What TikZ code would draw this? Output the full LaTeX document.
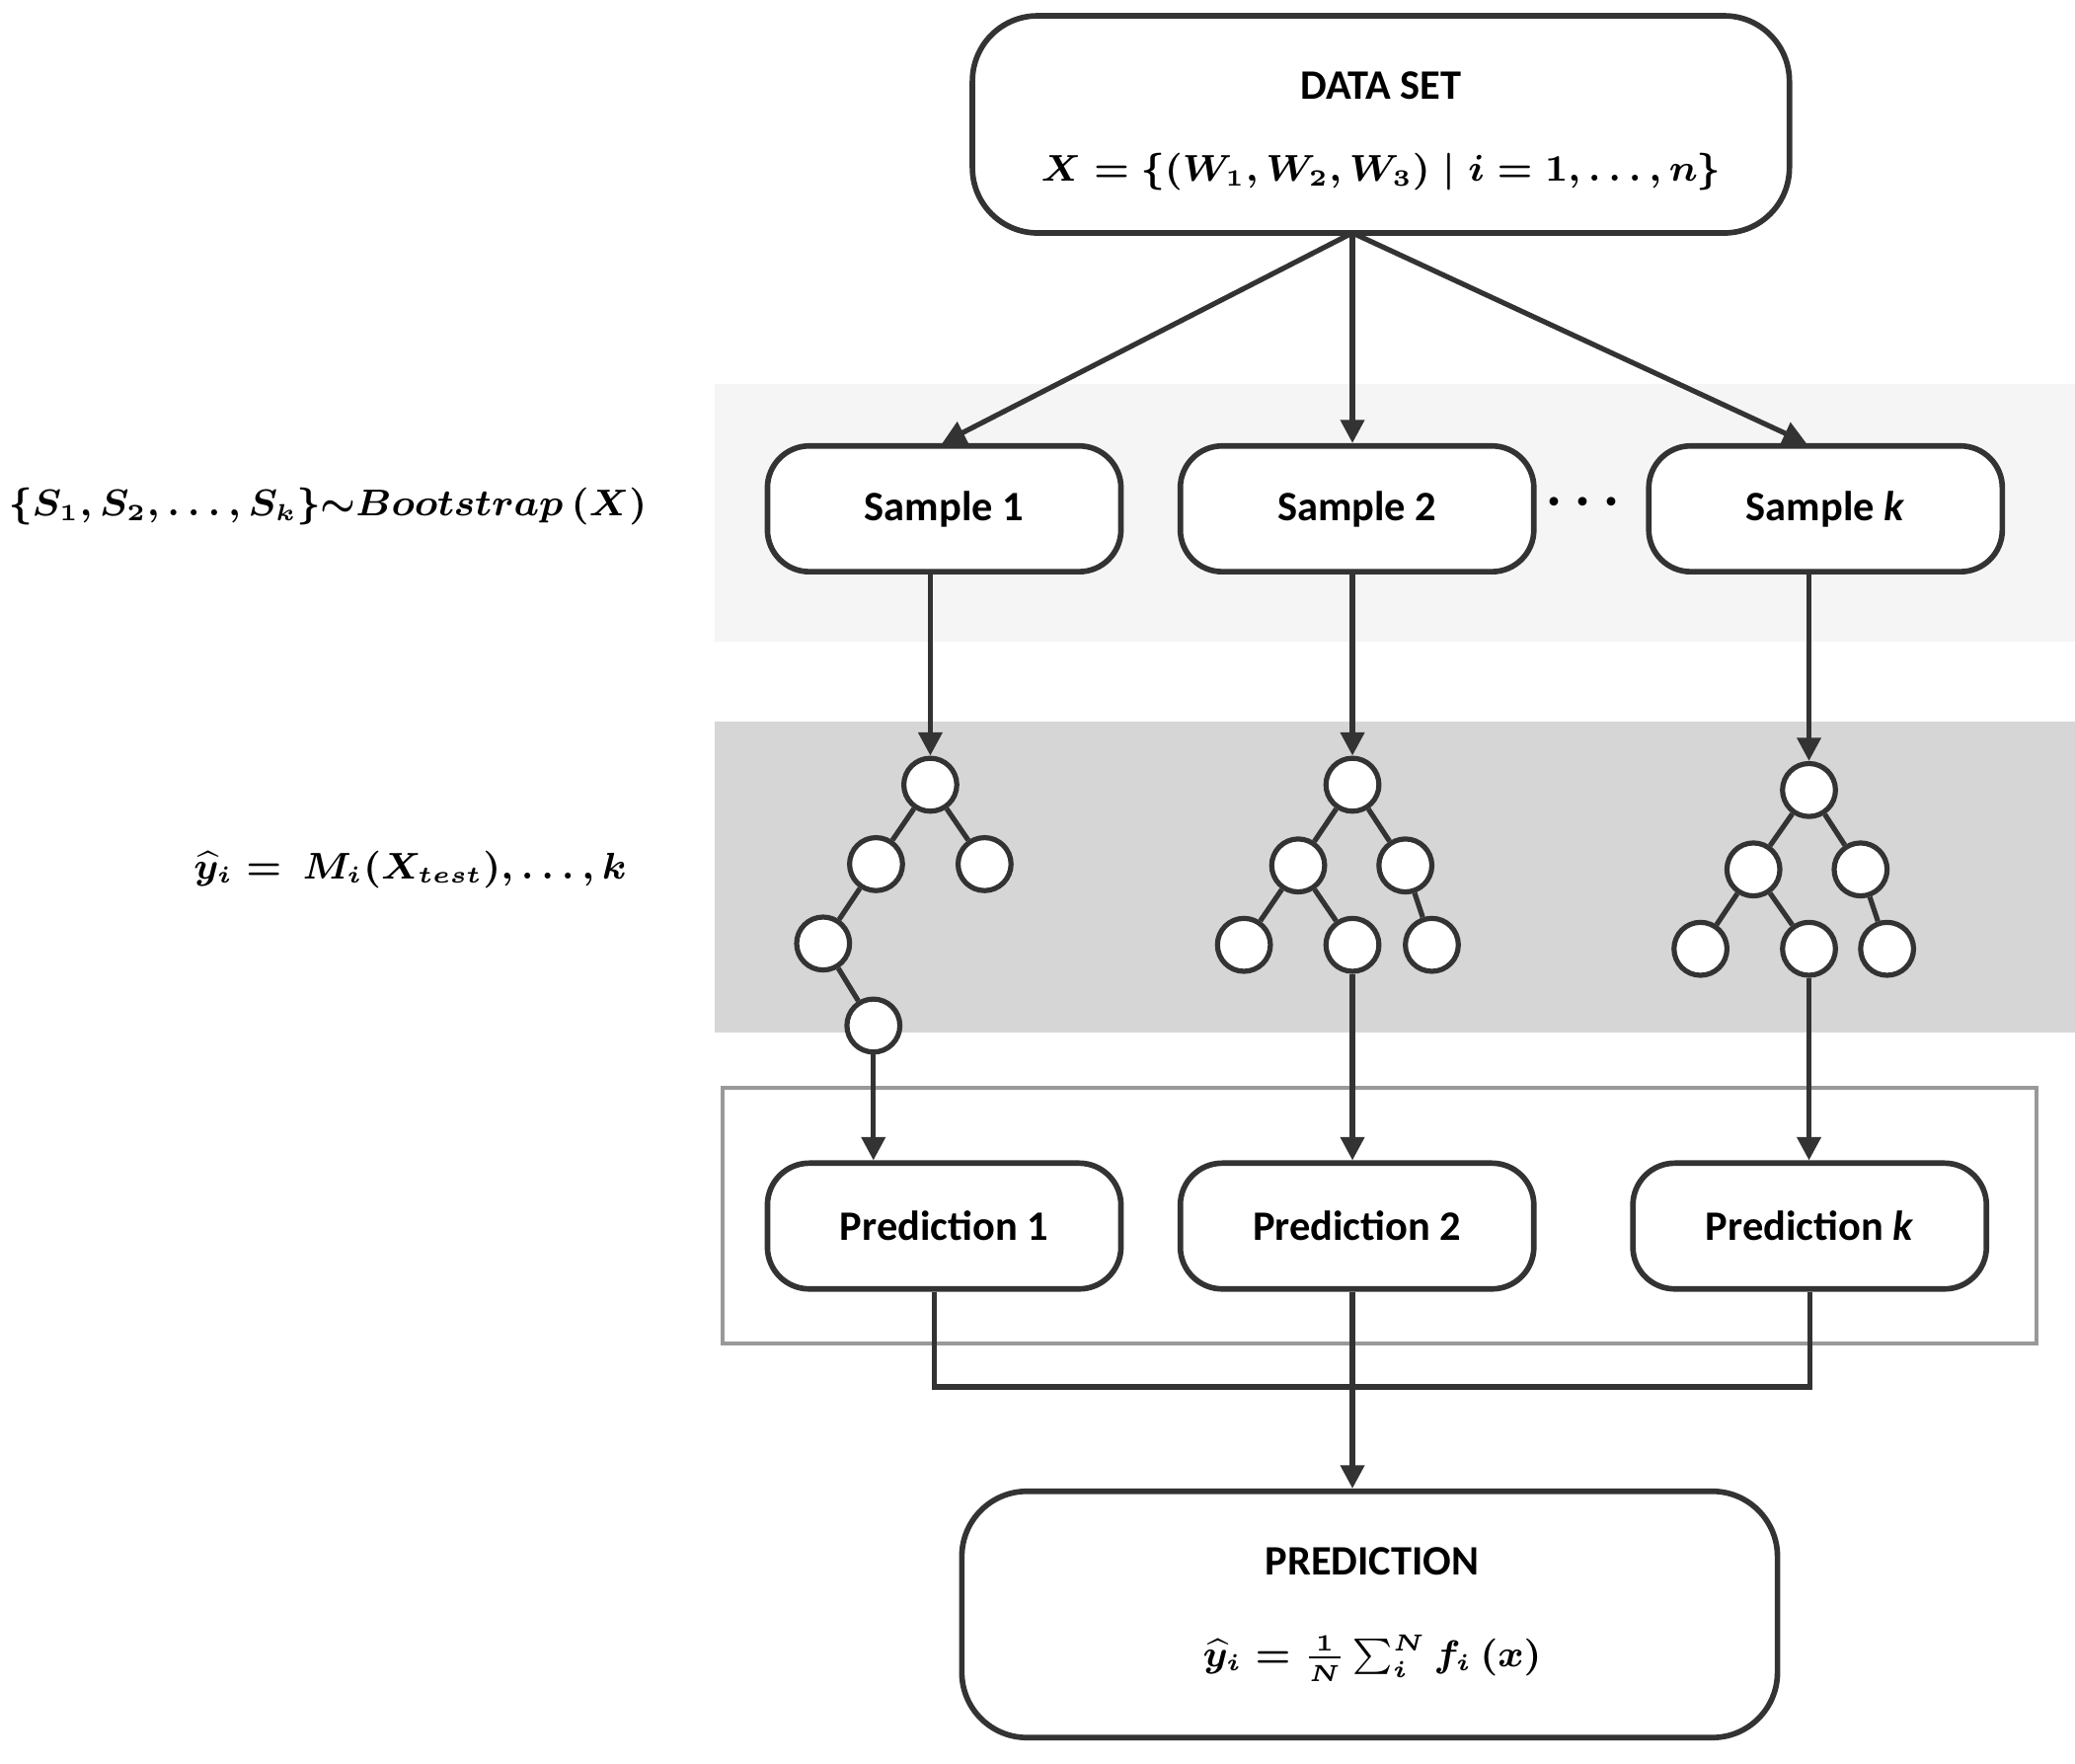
\documentclass[tikz,border=0pt]{standalone}
\usepackage{fontspec}
\setmainfont{Carlito}
\usepackage{amsmath,amssymb}
\usetikzlibrary{arrows.meta}
\begin{document}
\begin{tikzpicture}[x=0.01cm,y=-0.01cm,
  box/.style={draw=black!80, line width=1.2pt, rounded corners=9pt, fill=white,
              font=\fontsize{9}{11}\selectfont\bfseries, minimum width=2.67cm, minimum height=0.95cm},
  big/.style={draw=black!80, line width=1.2pt, rounded corners=14pt, fill=white},
  tn/.style={draw=black!80, line width=1.1pt, circle, fill=white, minimum size=0.4cm, inner sep=0pt},
  te/.style={draw=black!80, line width=1.1pt},
  arr/.style={draw=black!80, line width=1.1pt, -{Triangle[length=5pt,width=5pt]}},
  lbl/.style={font=\fontsize{7.6}{9}\selectfont, inner sep=0pt}]
\useasboundingbox (0,0) rectangle (1568,1333);

% Background bands
\fill[black!4] (540,290) rectangle (1568,485);
\fill[black!16] (540,545) rectangle (1568,780);
\draw[black!40, line width=0.9pt] (546,822) rectangle (1539,1015);

% Data set
\node[big, minimum width=6.17cm, minimum height=1.64cm] (ds) at (1043.5,94) {};
\node[font=\fontsize{9}{11}\selectfont\bfseries] (dst) at (1043.5,65) {DATA SET};
\node[lbl] (dsf) at (1043.5,130) {$\boldsymbol{X=\{(W_{\mathbf{1}},W_{\mathbf{2}},W_{\mathbf{3}})\mid i=\mathbf{1},\ldots,n\}}$};
\coordinate (dsb) at (1022,176);

% Samples
\node[box] (s1) at (713.5,384.5) {Sample 1};
\node[box] (s2) at (1025.5,384.5) {Sample 2};
\node[box] (sk) at (1379.5,384.5) {Sample \textit{k}};
\node[font=\fontsize{12}{12}\selectfont\bfseries] (dots) at (1200,380) {$\boldsymbol{\cdots}$};
\node[lbl] (lb1) at (248,383) {$\boldsymbol{\{S_{\mathbf{1}},S_{\mathbf{2}},\ldots,S_k\}{\sim}Bootstrap\ (X)}$};

\draw[arr] (dsb) -- (s1.north -| 712,0);
\draw[arr] (dsb) -- (s2.north -| 1022,0);
\draw[arr] (dsb) -- (sk.north -| 1365,0);

% Trees
\node[tn] (a0) at (703,593) {};
\node[tn] (a1) at (662,653) {};
\node[tn] (a2) at (744,653) {};
\node[tn] (a3) at (622,713) {};
\node[tn] (a4) at (660,775) {};
\draw[te] (a0) -- (a1); \draw[te] (a0) -- (a2);
\draw[te] (a1) -- (a3); \draw[te] (a3) -- (a4);

\node[tn] (b0) at (1022,593) {};
\node[tn] (b1) at (981,654) {};
\node[tn] (b2) at (1062,654) {};
\node[tn] (b3) at (940,714) {};
\node[tn] (b4) at (1022,714) {};
\node[tn] (b5) at (1082,714) {};
\draw[te] (b0) -- (b1); \draw[te] (b0) -- (b2);
\draw[te] (b1) -- (b3); \draw[te] (b1) -- (b4); \draw[te] (b2) -- (b5);

\node[tn] (c0) at (1367,597) {};
\node[tn] (c1) at (1325,657) {};
\node[tn] (c2) at (1406,657) {};
\node[tn] (c3) at (1285,717) {};
\node[tn] (c4) at (1367,717) {};
\node[tn] (c5) at (1426,717) {};
\draw[te] (c0) -- (c1); \draw[te] (c0) -- (c2);
\draw[te] (c1) -- (c3); \draw[te] (c1) -- (c4); \draw[te] (c2) -- (c5);

\node[lbl] (lb2) at (310,657) {$\boldsymbol{\widehat{y}_i=\ M_i(X_{test}),\ldots,k}$};

\draw[arr] (s1.south -| a0) -- (a0);
\draw[arr] (s2.south -| b0) -- (b0);
\draw[arr] (sk.south -| c0) -- (c0);

% Predictions
\node[box] (p1) at (713.5,926.5) {Prediction 1};
\node[box] (p2) at (1025.5,926.5) {Prediction 2};
\node[box] (pk) at (1367.5,926.5) {Prediction \textit{k}};
\draw[arr] (a4) -- (p1.north -| a4);
\draw[arr] (b4) -- (p2.north -| b4);
\draw[arr] (c4) -- (pk.north -| c4);

% Final prediction
\node[big, minimum width=6.16cm, minimum height=1.86cm] (fp) at (1035,1220) {};
\node[font=\fontsize{9}{11}\selectfont\bfseries] (fpt) at (1037,1180) {PREDICTION};
\node[lbl] (fpf) at (1037,1253) {$\boldsymbol{\widehat{y}_i=\tfrac{\mathbf{1}}{N}\textstyle\sum_i^N f_i\,(x)}$};

\coordinate (j1) at (706,1048);
\coordinate (j2) at (1368,1048);
\draw[te] (p1.south -| j1) -- (j1) -- (j2) -- (pk.south -| j2);
\draw[arr] (p2.south -| 1022,0) -- (fp.north -| 1022,0);
\end{tikzpicture}
\end{document}
